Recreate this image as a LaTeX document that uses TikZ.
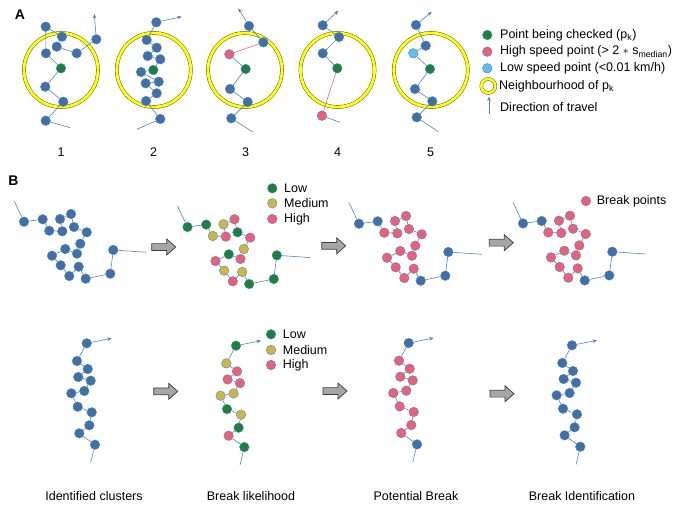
\documentclass[tikz,border=0pt]{standalone}
\usepackage{fontspec}
\setmainfont{Liberation Sans}
\usetikzlibrary{arrows.meta}
\definecolor{cB}{RGB}{64,112,168}
\definecolor{edgeblue}{RGB}{86,130,186}
\definecolor{cG}{RGB}{30,128,62}
\definecolor{cR}{RGB}{234,96,120}
\definecolor{cY}{RGB}{201,183,74}
\definecolor{cL}{RGB}{90,192,236}
\definecolor{ringyellow}{RGB}{255,255,0}
\definecolor{ringedge}{RGB}{80,80,80}
\definecolor{arrgray}{RGB}{166,166,166}
\definecolor{arredge}{RGB}{60,60,60}

\newcommand\RowOneCluster[4]{%
 \begin{scope}[shift={(#2,#3)}]
  \foreach \i/\px/\py [count=\k from 0] in {1/24/221.7,2/42.7/219.3,3/49.3/230.7,4/60/219,5/71/214,6/62.3/231.3,7/74/227,8/86.7/232.3,9/80.3/243.7,10/65.3/249,11/77/253.7,12/52/255.7,13/60.7/265.3,14/78.7/266.7,15/69.3/276,16/85.7/278.7,17/110.3/273.7,18/113.3/250}{%
    \pgfmathsetmacro\ptcol{{#4}[\k]}%
    \node[pt, fill=\ptcol] (#1\i) at (\px,\py) {};
  }
  \coordinate (#1s) at (14,200.7);
  \coordinate (#1e) at (146.7,252.3);
  \draw[edge] (#1s) -- (#11) -- (#12) -- (#13) -- (#16) -- (#14) -- (#15) -- (#17) -- (#18) -- (#19) -- (#111) -- (#110) -- (#112) -- (#113) -- (#115) -- (#114) -- (#116) -- (#117) -- (#118) -- (#1e);
 \end{scope}}

\newcommand\RowTwoCluster[4]{%
 \begin{scope}[shift={(#2,#3)}]
  \foreach \i/\px/\py [count=\k from 0] in {1/86.7/343.3,2/77/361,3/87.7/369,4/78.3/377,5/90.7/380.7,6/84.3/391,7/71.3/393.3,8/77.7/406.7,9/91.7/412.3,10/89.3/425.3,11/79.3/433.3,12/95/444.7}{%
    \pgfmathsetmacro\ptcol{{#4}[\k]}%
    \node[pt, fill=\ptcol] (#1\i) at (\px,\py) {};
  }
  \coordinate (#1s) at (90.7,462.7);
  \coordinate (#1e) at (111.7,338.3);
  \draw[edge] (#1s) -- (#112) -- (#111) -- (#110) -- (#19) -- (#18) -- (#17) -- (#16) -- (#15) -- (#14) -- (#13) -- (#12) -- (#11);
  \draw[dir] (#11) -- (#1e);
 \end{scope}}

\newcommand\BlockArrow[3]{%
 \begin{scope}[shift={(#2,#3)}]
  \coordinate (#1) at (0,0);
  \draw[barrow] (-12,-3.4) -- (3,-3.4) -- (3,-8) -- (12,0) -- (3,8) -- (3,3.4) -- (-12,3.4) -- cycle;
 \end{scope}}

\begin{document}
\begin{tikzpicture}[x=1pt,y=-1pt,
  pt/.style={circle, inner sep=0pt, minimum size=9.6pt, fill=cB, draw=edgeblue, line width=0.4pt},
  ptg/.style={pt, fill=cG},
  ptr/.style={pt, fill=cR},
  pty/.style={pt, fill=cY},
  ptl/.style={pt, fill=cL},
  edge/.style={draw=edgeblue, line width=0.6pt},
  redge/.style={draw=cR, line width=0.6pt},
  dir/.style={edge, -{Stealth[length=4.5pt,width=3.6pt]}},
  ring/.style={circle, inner sep=0pt, draw=ringedge, double=ringyellow, double distance=2.8pt, line width=0.45pt, minimum size=74pt},
  lab/.style={font=\fontsize{12.5}{15}\selectfont, inner sep=0pt, anchor=west},
  clab/.style={font=\fontsize{12.5}{15}\selectfont, inner sep=0pt},
  barrow/.style={draw=arredge, fill=arrgray, line width=0.7pt, line join=miter},
  panel/.style={font=\fontsize{14}{16}\selectfont\bfseries, inner sep=0pt}
]
\useasboundingbox (0,0) rectangle (684,514);

% ---------------- Panel A ----------------
\node[panel] (labA) at (20,15) {A};

% circle 1
\node[ring] (n1) at (61,70) {};
\node[pt] (a1) at (45.7,26.7) {};
\node[pt] (a2) at (62,36.7) {};
\node[pt] (a3) at (56.7,46.7) {};
\node[pt] (a4) at (46,53.3) {};
\node[pt] (a5) at (76.7,53.3) {};
\node[pt] (a6) at (96.3,39.3) {};
\node[ptg] (ag) at (61,68.3) {};
\node[pt] (a7) at (45.3,86.7) {};
\node[pt] (a8) at (63.3,101.7) {};
\node[pt] (a9) at (45.7,120.7) {};
\coordinate (at) at (70,127.7);
\coordinate (aa) at (94.3,14);
\draw[edge] (at) -- (a9) -- (a8) -- (a7) -- (ag) -- (a4) -- (a1) -- (a2) -- (a3) -- (a5) -- (a6);
\draw[dir] (a6) -- (aa);

% circle 2
\node[ring] (n2) at (153.8,70) {};
\node[pt] (b1) at (156.3,22.3) {};
\node[pt] (b2) at (146.7,40) {};
\node[pt] (b3) at (156.7,47.7) {};
\node[pt] (b4) at (147.7,56) {};
\node[pt] (b5) at (160.3,59.3) {};
\node[ptg] (bg) at (153.3,70) {};
\node[pt] (b6) at (141,72) {};
\node[pt] (b7) at (158.7,81.7) {};
\node[pt] (b8) at (145.7,83.3) {};
\node[pt] (b9) at (156.7,93.3) {};
\node[pt] (b10) at (146,101) {};
\node[pt] (b11) at (160.3,119) {};
\coordinate (bt) at (136.7,129.3);
\coordinate (ba) at (181.7,16.7);
\draw[edge] (bt) -- (b11) -- (b10) -- (b9) -- (b8) -- (b7) -- (b6) -- (bg) -- (b5) -- (b4) -- (b3) -- (b2) -- (b1);
\draw[dir] (b1) -- (ba);

% circle 3
\node[ring] (n3) at (245,70) {};
\node[pt] (c1) at (249,26) {};
\node[pt] (c2) at (263.3,42.3) {};
\node[ptr] (cr) at (229.3,54.3) {};
\node[ptg] (cg) at (245.7,69) {};
\node[pt] (c3) at (230,89) {};
\node[pt] (c4) at (247.7,102) {};
\node[pt] (c5) at (231.3,118.3) {};
\coordinate (ct) at (253.3,132.3);
\coordinate (ca) at (238.3,8.3);
\draw[edge] (ct) -- (c5) -- (c4) -- (c3) -- (cg) -- (cr);
\draw[redge] (cr) -- (c2);
\draw[edge] (c2) -- (c1);
\draw[dir] (c1) -- (ca);

% circle 4
\node[ring] (n4) at (337.5,70) {};
\node[pt] (d1) at (322.7,25.3) {};
\node[pt] (d2) at (339,37) {};
\node[pt] (d3) at (322.7,53.3) {};
\node[ptg] (dg) at (337.3,68.3) {};
\node[ptr] (dr) at (322,115.7) {};
\coordinate (dt) at (340,122.3);
\coordinate (da) at (338.3,10.7);
\draw[edge] (dt) -- (dr);
\draw[redge] (dr) -- (dg);
\draw[edge] (dg) -- (d3) -- (d2) -- (d1);
\draw[dir] (d1) -- (da);

% circle 5
\node[ring] (n5) at (430.8,70) {};
\node[pt] (e1) at (416,25) {};
\node[pt] (e2) at (425.7,45.7) {};
\node[ptl] (el) at (413.3,53.3) {};
\node[ptg] (eg) at (430,69) {};
\node[pt] (e3) at (415,89) {};
\node[pt] (e4) at (432.3,101.3) {};
\node[pt] (e5) at (416.7,117.3) {};
\coordinate (et) at (438.3,131.7);
\coordinate (ea) at (431.7,11.7);
\draw[edge] (et) -- (e5) -- (e4) -- (e3) -- (eg) -- (el) -- (e2) -- (e1);
\draw[dir] (e1) -- (ea);

% numbers
\node[clab] (num1) at (61,152) {1};
\node[clab] (num2) at (153.5,152) {2};
\node[clab] (num3) at (245.5,152) {3};
\node[clab] (num4) at (337.5,152) {4};
\node[clab] (num5) at (430.5,152) {5};

% legend A
\node[ptg] (lg1) at (487.3,35) {};
\node[lab] (lt1) at (500,35) {Point being checked (p\textsubscript{k})};
\node[ptr] (lg2) at (487.3,51.7) {};
\node[lab] (lt2) at (500,51.7) {High speed point (> 2 $\ast$ s\textsubscript{median})};
\node[ptl] (lg3) at (487.3,68.3) {};
\node[lab] (lt3) at (500,68.3) {Low speed point (<0.01 km/h)};
\node[ring, minimum size=14pt, double distance=2.6pt] (lg4) at (488.3,86) {};
\node[lab] (lt4) at (499,86) {Neighbourhood of p\textsubscript{k}};
\coordinate (lg5a) at (489,113.5);
\coordinate (lg5b) at (489,96.5);
\draw[dir] (lg5a) -- (lg5b);
\node[lab] (lt5) at (500,106.7) {Direction of travel};

% ---------------- Panel B ----------------
\node[panel] (labB) at (13.5,181) {B};

\RowOneCluster{ua}{0}{0}{"cB","cB","cB","cB","cB","cB","cB","cB","cB","cB","cB","cB","cB","cB","cB","cB","cB","cB"}
\RowOneCluster{ub}{163.5}{5.3}{"cG","cG","cY","cY","cR","cR","cG","cR","cY","cG","cR","cR","cY","cY","cR","cG","cG","cG"}
\RowOneCluster{uc}{335}{2}{"cB","cB","cR","cR","cR","cR","cR","cR","cR","cR","cR","cR","cR","cR","cR","cB","cB","cB"}
\RowOneCluster{ud}{499}{1.7}{"cB","cB","cR","cR","cR","cR","cR","cR","cR","cR","cR","cR","cR","cR","cR","cB","cB","cB"}

\RowTwoCluster{va}{0}{0}{"cB","cB","cB","cB","cB","cB","cB","cB","cB","cB","cB","cB"}
\RowTwoCluster{vb}{149.3}{2.4}{"cG","cY","cR","cR","cR","cY","cY","cG","cY","cG","cR","cG"}
\RowTwoCluster{vc}{322}{-0.3}{"cB","cR","cR","cR","cR","cR","cR","cR","cR","cR","cR","cB"}
\RowTwoCluster{vd}{485.3}{2}{"cB","cB","cB","cB","cB","cB","cB","cB","cB","cB","cB","cB"}

% block arrows
\BlockArrow{ar1}{163.7}{247}
\BlockArrow{ar2}{333.7}{245.8}
\BlockArrow{ar3}{501.3}{242.7}
\BlockArrow{ar4}{165.7}{391.3}
\BlockArrow{ar5}{335}{391}
\BlockArrow{ar6}{502}{393.7}

% legends B
\node[ptg] (bl1) at (272.3,188.3) {};
\node[lab] (blt1) at (284,188.3) {Low};
\node[pty] (bl2) at (272.3,203.3) {};
\node[lab] (blt2) at (284,203.3) {Medium};
\node[ptr] (bl3) at (272.3,219) {};
\node[lab] (blt3) at (284,219) {High};

\node[ptr] (bp1) at (586,201) {};
\node[lab] (bpt1) at (596.7,201) {Break points};

\node[ptg] (cl1) at (271,334.3) {};
\node[lab] (clt1) at (282.7,334.3) {Low};
\node[pty] (cl2) at (271,350) {};
\node[lab] (clt2) at (282.7,350) {Medium};
\node[ptr] (cl3) at (271,365) {};
\node[lab] (clt3) at (282.7,365) {High};

% bottom labels
\node[clab] (bot1) at (94,496) {Identified clusters};
\node[clab] (bot2) at (251,496) {Break likelihood};
\node[clab] (bot3) at (416,496) {Potential Break};
\node[clab] (bot4) at (582,496) {Break Identification};
\end{tikzpicture}
\end{document}
